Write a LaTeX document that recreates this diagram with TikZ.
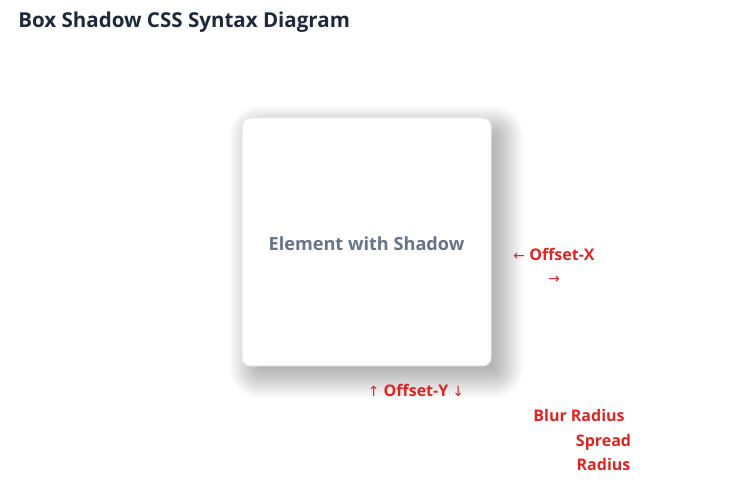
\documentclass[tikz,border=0pt]{standalone}
\usepackage{fontspec}
\setmainfont{Open Sans}
\newfontfamily\arrowfont{DejaVu Sans}
\definecolor{titlec}{HTML}{1E293B}
\definecolor{boxtext}{HTML}{64748B}
\definecolor{boxborder}{HTML}{E2E8F0}
\definecolor{labred}{HTML}{DC2626}
\newcommand{\arw}[1]{{\arrowfont\mdseries\fontsize{10.5}{10.5}\selectfont #1}}
\tikzset{
  elbox/.style={draw=boxborder, line width=0.75pt, fill=white, rounded corners=6pt,
    minimum width=186.75pt, minimum height=186pt, inner sep=0pt,
    text=boxtext, font=\bfseries\fontsize{13.6}{16}\selectfont},
  shadowlayer/.style={fill=black, fill opacity=0.02, draw=none},
  lab/.style={text=labred, font=\bfseries\fontsize{12}{17.25}\selectfont, align=center, inner sep=0pt},
  ttl/.style={text=titlec, font=\bfseries\fontsize{15.4}{18}\selectfont, inner sep=0pt}
}
\begin{document}
\begin{tikzpicture}[x=0.75pt,y=-0.75pt]
\useasboundingbox[fill=white] (0,0) rectangle (732,484);
\foreach \e in {-20,-18,...,22}{
  \pgfmathsetmacro{\rc}{max(1,6+0.75*\e)}
  \fill[shadowlayer, rounded corners=\rc pt] (252-\e,128-\e) rectangle (501+\e,376+\e);
}
\node[elbox] (el) at (366.5,242) {};
\node[text=boxtext, font=\bfseries\fontsize{13.6}{16}\selectfont, inner sep=0pt] (eltext) at (366.5,243.5) {Element with Shadow};
\node[ttl, anchor=base west] (title) at (18,28) {Box Shadow CSS Syntax Diagram};
\node[lab, anchor=base] (offx) at (554,284) {\arw{←} Offset-X\\\arw{→}};
\node[lab, anchor=base] (offy) at (416,397) {\arw{↑} Offset-Y \arw{↓}};
\node[lab, anchor=base] (blur) at (579,422) {Blur Radius};
\node[lab, anchor=base] (spread) at (603.5,470) {Spread\\Radius};
\end{tikzpicture}
\end{document}
